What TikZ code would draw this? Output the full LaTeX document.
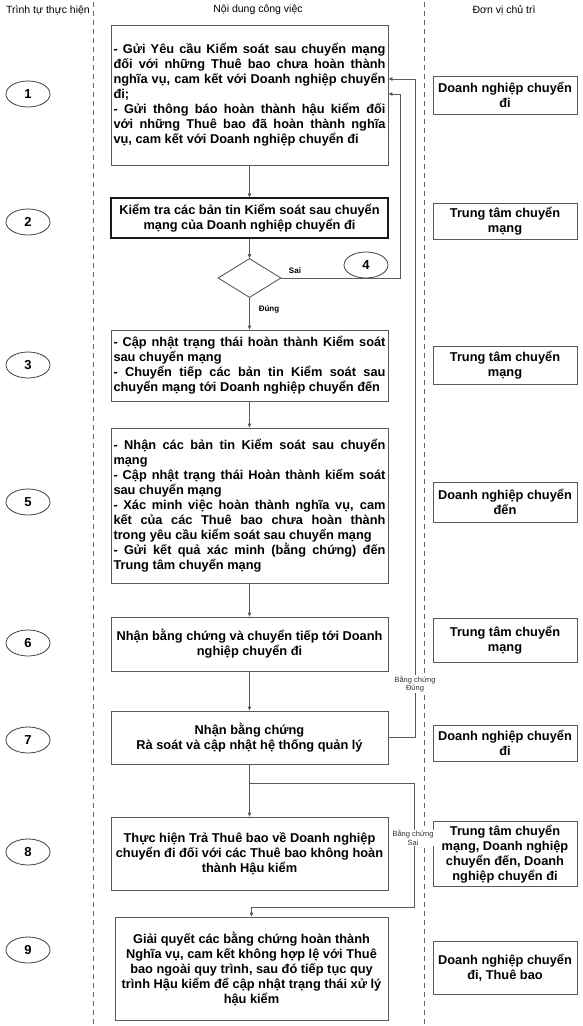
\documentclass[tikz,border=0pt]{standalone}
\usepackage{fontspec}
\setmainfont{Liberation Sans}
\usetikzlibrary{shapes.geometric,arrows.meta}
\tolerance=10000
\hyphenpenalty=10000

\tikzset{
  task/.style={draw=black!65, line width=0.8pt, minimum width=277pt, inner xsep=2.5pt, font=\fontsize{12.8}{15}\selectfont\bfseries},
  taskj/.style={task, text width=272pt, align=justify},
  taskc/.style={task, align=center},
  owner/.style={draw=black!65, line width=0.8pt, minimum width=144pt, align=center, font=\fontsize{12.8}{15}\selectfont\bfseries},
  stepno/.style={draw=black!75, line width=0.8pt, ellipse, minimum width=44pt, minimum height=26pt, inner sep=0pt, font=\fontsize{13}{15}\selectfont\bfseries},
  arr/.style={draw=black!65, line width=0.8pt, -{Triangle[length=4pt,width=3.5pt]}},
  lane/.style={draw=black!60, line width=0.6pt, dash pattern=on 5pt off 4pt},
  head/.style={font=\fontsize{10.5}{12}\selectfont},
  tag/.style={font=\fontsize{8}{9}\selectfont\bfseries},
  note/.style={fill=white, inner sep=0.5pt, align=center, text=black!80, font=\fontsize{7.5}{8.5}\selectfont},
}

\begin{document}
\begin{tikzpicture}[x=1pt,y=-1pt]
    \useasboundingbox (0,0) rectangle (583,1026);
    % column heads and lanes
    \node[head] (h1) at (48,10) {Trình tự thực hiện};
    \node[head] (h2) at (258,10) {Nội dung công việc};
    \node[head] (h3) at (504,10) {Đơn vị chủ trì};
    \draw[lane] (93,2) -- (93,1024);
    \draw[lane] (424,2) -- (424,1024);

    % work steps
    \node[taskj, minimum height=140pt] (b1) at (249.5,95) {- Gửi Yêu cầu Kiểm soát sau chuyển mạng\linebreak đối với những Thuê bao chưa hoàn thành\linebreak nghĩa vụ, cam kết với Doanh nghiệp chuyển\linebreak đi;\\- Gửi thông báo hoàn thành hậu kiểm đối\linebreak với những Thuê bao đã hoàn thành nghĩa\linebreak vụ, cam kết với Doanh nghiệp chuyển đi};
    \node[taskc, draw=black!90, line width=1.2pt, minimum height=40pt] (b2) at (249.5,218) {Kiểm tra các bản tin Kiểm soát sau chuyển\\mạng của Doanh nghiệp chuyển đi};
    \node[draw=black!70, line width=0.8pt, diamond, minimum width=63pt, minimum height=39pt, inner sep=0pt] (dec) at (249.5,278) {};
    \node[taskj, minimum height=71pt] (b3) at (249.5,365.5) {- Cập nhật trạng thái hoàn thành Kiểm soát\linebreak sau chuyển mạng\\- Chuyển tiếp các bản tin Kiểm soát sau\linebreak chuyển mạng tới Doanh nghiệp chuyển đến};
    \node[taskj, minimum height=155pt] (b5) at (249.5,505.5) {- Nhận các bản tin Kiểm soát sau chuyển\linebreak mạng\\- Cập nhật trạng thái Hoàn thành kiểm soát\linebreak sau chuyển mạng\\- Xác minh việc hoàn thành nghĩa vụ, cam\linebreak kết của các Thuê bao chưa hoàn thành\linebreak trong yêu cầu kiểm soát sau chuyển mạng\\- Gửi kết quả xác minh (bằng chứng) đến\linebreak Trung tâm chuyển mạng};
    \node[taskc, minimum height=54pt] (b6) at (249.5,644) {Nhận bằng chứng và chuyển tiếp tới Doanh\\nghiệp chuyển đi};
    \node[taskc, minimum height=53pt] (b7) at (249.5,737.5) {Nhận bằng chứng\\Rà soát và cập nhật hệ thống quản lý};
    \node[taskc, minimum height=73pt] (b8) at (249.5,853.5) {Thực hiện Trả Thuê bao về Doanh nghiệp\\chuyển đi đối với các Thuê bao không hoàn\\thành Hậu kiểm};
    \node[taskc, minimum width=273pt, minimum height=103pt] (b9) at (251.5,968.5) {Giải quyết các bằng chứng hoàn thành\\Nghĩa vụ, cam kết không hợp lệ với Thuê\\bao ngoài quy trình, sau đó tiếp tục quy\\trình Hậu kiểm để cập nhật trạng thái xử lý\\hậu kiểm};

    % step numbers
    \node[stepno] (n1) at (28,94) {1};
    \node[stepno] (n2) at (28,222) {2};
    \node[stepno] (n3) at (28,365) {3};
    \node[stepno] (n4) at (366,265) {4};
    \node[stepno] (n5) at (28,502) {5};
    \node[stepno] (n6) at (28,643) {6};
    \node[stepno] (n7) at (28,740) {7};
    \node[stepno] (n8) at (28,852) {8};
    \node[stepno] (n9) at (28,950) {9};

    % owners
    \node[owner, minimum height=38pt] (o1) at (505,95) {Doanh nghiệp chuyển\\đi};
    \node[owner, minimum height=36pt] (o2) at (505,221) {Trung tâm chuyển\\mạng};
    \node[owner, minimum height=38pt] (o3) at (505,365) {Trung tâm chuyển\\mạng};
    \node[owner, minimum height=40pt] (o5) at (505,502) {Doanh nghiệp chuyển\\đến};
    \node[owner, minimum height=44pt] (o6) at (505,640) {Trung tâm chuyển\\mạng};
    \node[owner, minimum height=36pt] (o7) at (505,743) {Doanh nghiệp chuyển\\đi};
    \node[owner, minimum height=63pt] (o8) at (505,854) {Trung tâm chuyển\\mạng, Doanh nghiệp\\chuyển đến, Doanh\\nghiệp chuyển đi};
    \node[owner, minimum height=53pt] (o9) at (505,968) {Doanh nghiệp chuyển\\đi, Thuê bao};

    % main flow
    \draw[arr] (b1.south) -- (b2.north);
    \draw[arr] (b2.south) -- (dec.north);
    \draw[arr] (dec.south) -- (b3.north);
    \draw[arr] (b3.south) -- (b5.north);
    \draw[arr] (b5.south) -- (b6.north);
    \draw[arr] (b6.south) -- (b7.north);
    \draw[arr] (b7.south) -- (b8.north);

    % loops back
    \coordinate (sai) at (400.5,94);
    \coordinate (ok) at (415,79);
    \coordinate (fork) at (249.5,783);
    \coordinate (back) at (414,907);
    \draw[arr] (dec.east) -| (sai) -- (sai -| b1.east);
    \draw[arr] (b7.east) -| (ok) -- (ok -| b1.east);
    \draw[arr] (fork) -| (back) -| (b9.north);

    \node[tag] (lsai) at (295,271) {Sai};
    \node[tag] (ldung) at (269,309) {Đúng};
    \node[note] (lok) at (415,684) {Bằng chứng\\Đúng};
    \node[note] (lko) at (413,838) {Bằng chứng\\Sai};
\end{tikzpicture}
\end{document}
